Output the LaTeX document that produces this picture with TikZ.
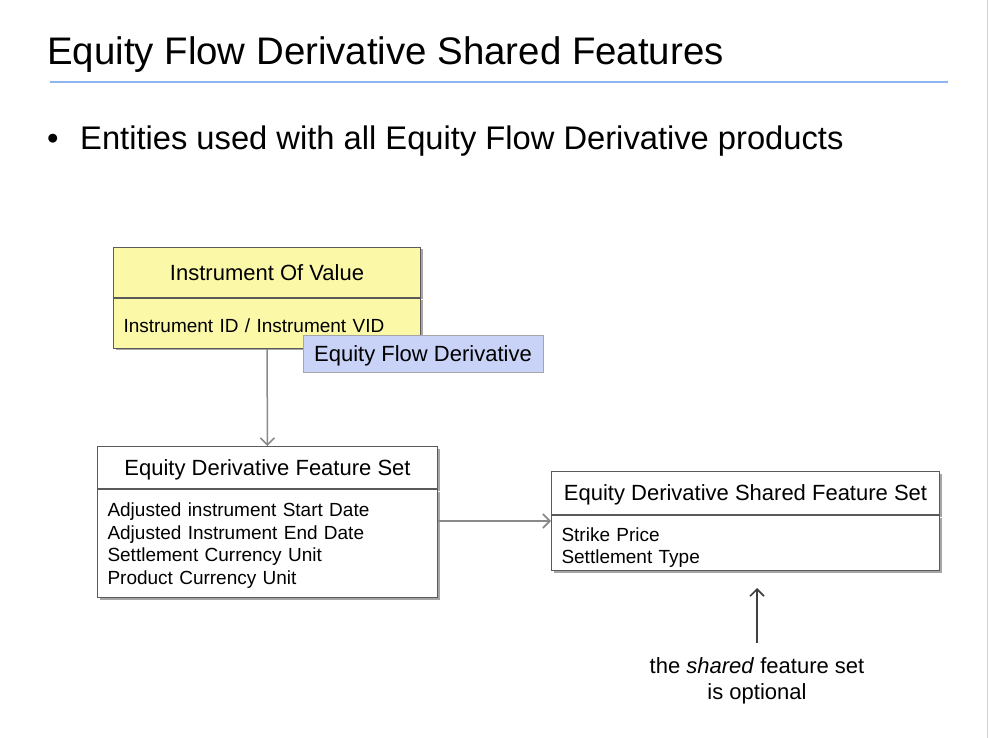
\documentclass[tikz,border=0pt]{standalone}
\usepackage{fontspec}
\setmainfont{Liberation Sans}
\usetikzlibrary{positioning}
\usetikzlibrary{arrows.meta}
\usetikzlibrary{shadows}
\usetikzlibrary{calc}
\definecolor{boxline}{HTML}{5A5A5A}
\definecolor{ivyellow}{HTML}{FBF8A8}
\definecolor{efdblue}{HTML}{C9D3F8}
\definecolor{rulblue}{HTML}{8FB4F2}
\definecolor{arrgray}{HTML}{8A8A8A}
\tikzset{
    boxshadow/.style = {drop shadow={shadow xshift=2pt,shadow yshift=-2pt,fill=black,opacity=.35}},
    boxhead/.style = {rectangle, draw=boxline, line width=1pt, fill=white, align=center, inner sep=0pt,
        text height=15.5pt, text depth=0pt, font=\fontsize{22}{26}\selectfont, boxshadow},
    boxattr/.style = {rectangle, draw=boxline, line width=1pt, fill=white, align=left, inner xsep=10pt,
        inner ysep=2pt, font=\fontsize{19}{22.7}\selectfont, boxshadow},
    efdlabel/.style = {rectangle, draw=gray!70, line width=.8pt, fill=efdblue, inner sep=0pt,
        minimum width=240pt, minimum height=37pt, text height=16pt, text depth=0pt,
        font=\fontsize{22}{26}\selectfont},
    slidetitle/.style = {inner sep=0pt, font=\fontsize{38.4}{44}\selectfont},
    bullettext/.style = {inner sep=0pt, font=\fontsize{32.7}{38}\selectfont},
    notetext/.style = {inner sep=0pt, align=center, font=\fontsize{22}{26}\selectfont},
    edgen/.style = {-{Straight Barb[length=7pt,width=14pt,line width=1.6pt]}, line width=1.5pt, arrgray},
    edgenote/.style = {-{Straight Barb[length=7pt,width=14pt,line width=1.6pt]}, line width=1.5pt, black!75}
}
\begin{document}
\begin{tikzpicture}[x=1pt,y=-1pt]
\useasboundingbox (0,0) rectangle (989,738);
\fill[white] (0,0) rectangle (989,738);
\draw[gray!35, line width=1pt] (987.5,0) -- (987.5,738);

\node[slidetitle, anchor=base west] at (47,65) (title) {Equity Flow Derivative Shared Features};
\draw[rulblue, line width=2pt] (50,82) -- (948,82);
\node[bullettext, anchor=base west] at (47,150) (dot) {•};
\node[bullettext, anchor=base west] at (80,150) (intro) {Entities used with all Equity Flow Derivative products};

% instrument of value
\node[boxhead, fill=ivyellow, minimum width=307pt, minimum height=50pt, anchor=north west] at (113,247) (ivhead) {Instrument Of Value};
\node[boxattr, fill=ivyellow, text width=287pt, minimum height=50pt, text height=18pt, text depth=0pt,
    below=0pt of ivhead] (ivattr) {Instrument ID / Instrument VID};
\node[efdlabel] at (423,353.5) (efd) {Equity Flow Derivative};

% feature set
\node[boxhead, minimum width=340pt, minimum height=42pt, anchor=north west] at (97,446) (fshead) {Equity Derivative Feature Set};
\node[boxattr, text width=320pt, minimum height=108pt, text height=18pt, below=0pt of fshead] (fsattr)
    {Adjusted instrument Start Date\\Adjusted Instrument End Date\\Settlement Currency Unit\\Product Currency Unit};

% shared feature set
\node[boxhead, minimum width=388pt, minimum height=43pt, anchor=north west] at (551,471) (sfhead) {Equity Derivative Shared Feature Set};
\node[boxattr, text width=368pt, minimum height=55pt, text height=22.7pt, font=\fontsize{19}{22}\selectfont,
    below=0pt of sfhead] (sfattr) {Strike Price\\Settlement Type};
\coordinate (sfmid) at ($(sfhead.north west)!.5!(sfattr.south west)$);

% note
\node[notetext, anchor=north] at (757,657) (note) {the \emph{shared} feature set\\is optional};
\coordinate (tip) at (757,588);
%
\draw[edgen] (ivattr.south) -- (fshead.north);
\draw[edgen] (fsattr.east |- sfmid) -- (sfmid);
\draw[edgenote] ([yshift=14pt]note.north) -- (tip);
\end{tikzpicture}
\end{document}
